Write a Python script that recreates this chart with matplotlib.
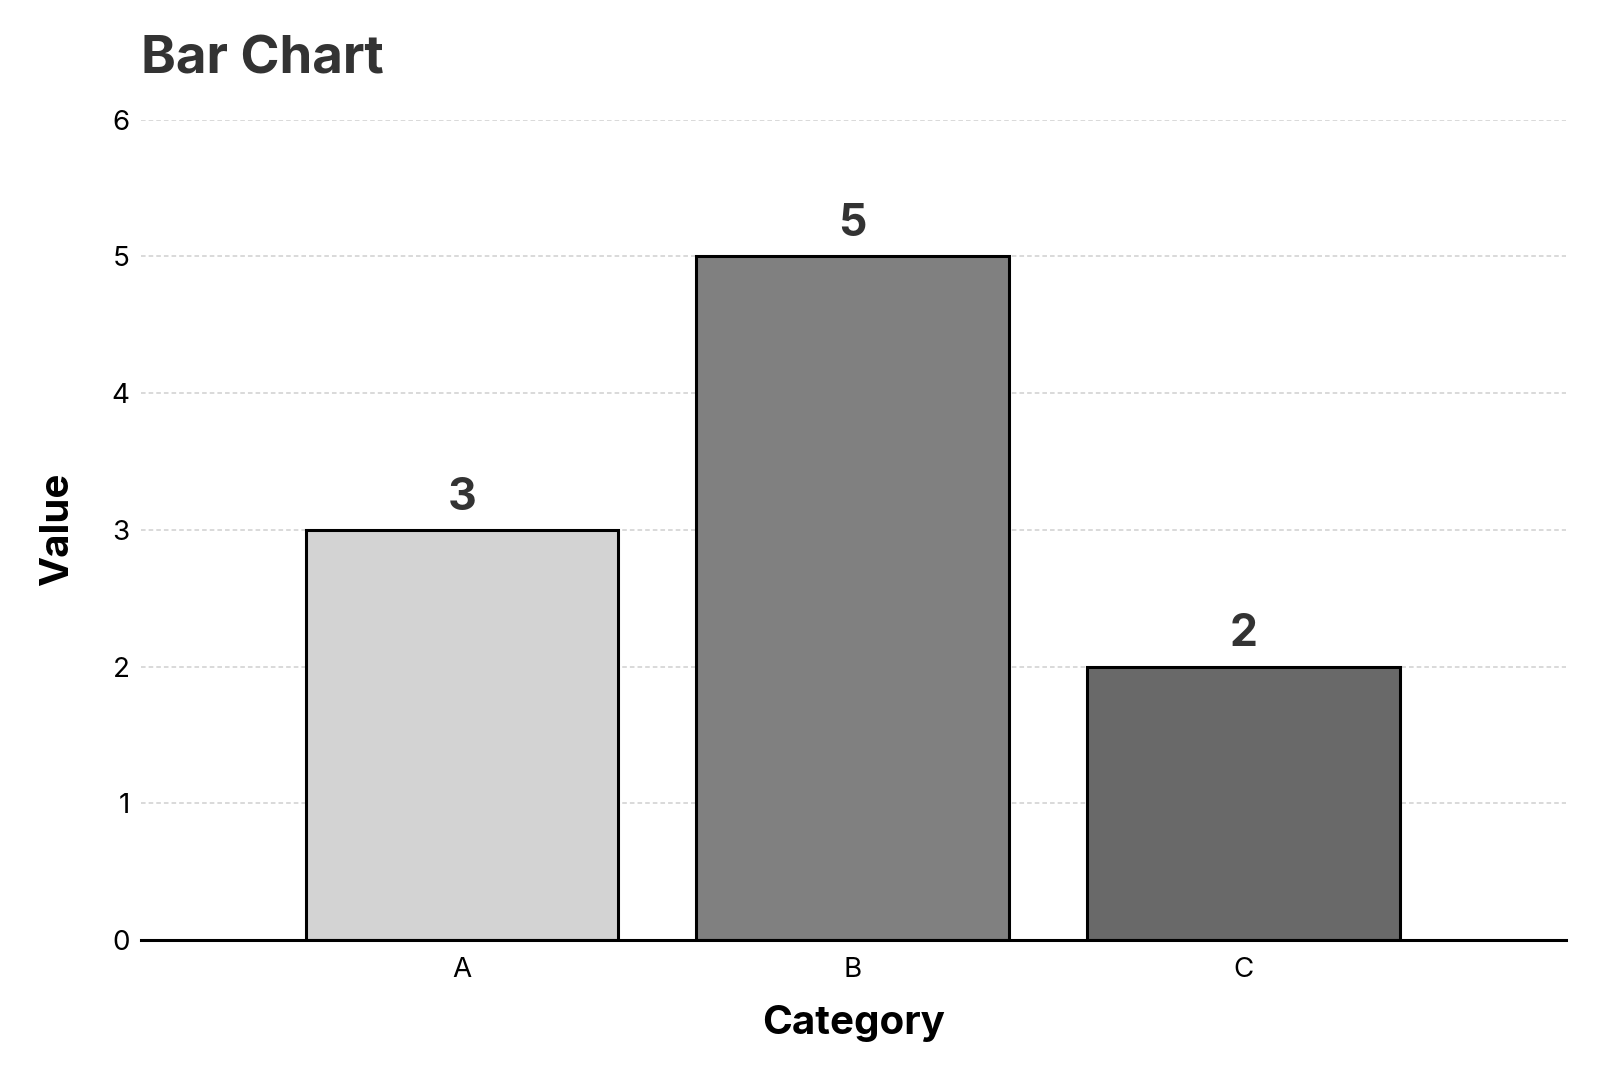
import matplotlib
matplotlib.use("Agg")
import matplotlib.pyplot as plt

categories = ["A", "B", "C"]
values = [3, 5, 2]
bar_colors = ["#d3d3d3", "#808080", "#696969"]
y_ticks = [0, 1, 2, 3, 4, 5, 6]

plt.rcParams["font.family"] = ["Inter", "DejaVu Sans"]

fig = plt.figure(figsize=(16, 10.67), dpi=100)
ax = fig.add_axes([0.088, 0.119, 0.891, 0.769])

bars = ax.bar(categories, values, width=0.8, color=bar_colors,
              edgecolor="black", linewidth=2.2, zorder=3)
ax.bar_label(bars, padding=8, fontsize=32, fontweight="bold", color="#333333")

ax.set_xlim(-0.822, 2.827)
ax.set_ylim(0, 6)
ax.set_yticks(y_ticks)

# dashed light grid, horizontal only
ax.yaxis.grid(True, linestyle=(0, (3, 2)), color="#cfcfcf", linewidth=1.1, zorder=0)
ax.set_axisbelow(True)

for side in ["top", "right", "left"]:
    ax.spines[side].set_visible(False)
ax.spines["bottom"].set_linewidth(2.2)
ax.spines["bottom"].set_zorder(4)

ax.tick_params(axis="both", length=0, labelsize=20, colors="black")
ax.tick_params(axis="y", pad=8)
ax.tick_params(axis="x", pad=12)

ax.set_xlabel("Category", fontsize=29, fontweight="bold", labelpad=16)
ax.set_ylabel("Value", fontsize=29, fontweight="bold", labelpad=26)
ax.set_title("Bar Chart", loc="left", fontsize=38, fontweight="bold",
             color="#333333", pad=33)

fig.savefig("out.png", dpi=100, facecolor="white")
